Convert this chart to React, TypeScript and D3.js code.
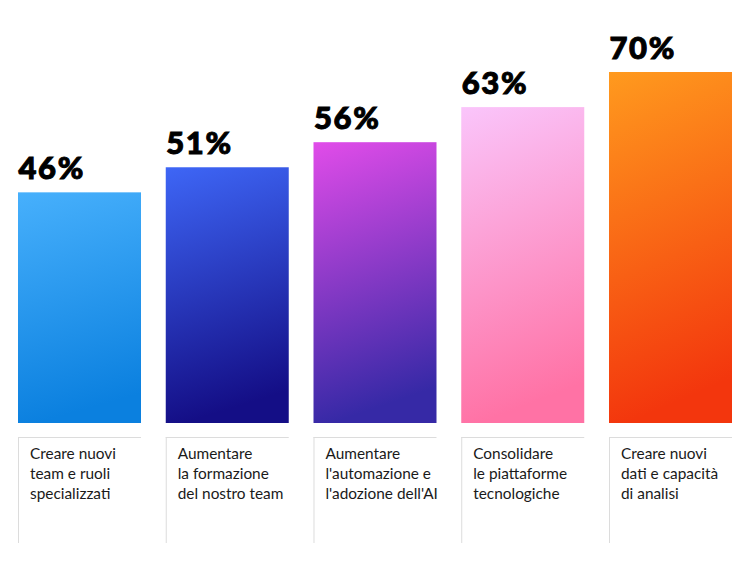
import React from "react";
import * as d3 from "d3";

const categories: string[][] = [
  ["Creare nuovi", "team e ruoli", "specializzati"],
  ["Aumentare", "la formazione", "del nostro team"],
  ["Aumentare", "l'automazione e", "l'adozione dell'AI"],
  ["Consolidare", "le piattaforme", "tecnologiche"],
  ["Creare nuovi", "dati e capacità", "di analisi"],
];
const values: number[] = [46, 51, 56, 63, 70];
const valueLabels: string[] = ["46%", "51%", "56%", "63%", "70%"];
const topColors: string[] = ["#47b0fc", "#3e66f6", "#e14ce9", "#fac5fb", "#ff9a1e"];
const bottomColors: string[] = ["#0b80df", "#140e86", "#3629a6", "#ff72a5", "#f3360d"];

const W = 750;
const H = 582;

export default function App() {
  const x = d3
    .scaleBand<number>()
    .domain(d3.range(values.length))
    .range([18, 732])
    .paddingInner(0.1675)
    .paddingOuter(0);
  const y = d3.scaleLinear().domain([0, 70]).range([423, 72]);
  const bw = x.bandwidth();

  return (
    <svg
      width={W}
      height={H}
      style={{ position: "absolute", left: 0, top: 0, background: "#fff" }}
    >
      <defs>
        {values.map((_, i) => (
          <linearGradient key={i} id={`g${i}`} x1="0" y1="0" x2="0.15" y2="1">
            <stop offset="0%" stopColor={topColors[i]} />
            <stop offset="100%" stopColor={bottomColors[i]} />
          </linearGradient>
        ))}
      </defs>
      {values.map((v, i) => {
        const bx = x(i) as number;
        return (
          <g key={i}>
            <rect x={bx} y={y(v)} width={bw} height={y(0) - y(v)} fill={`url(#g${i})`} />
            <text
              x={bx + 0.5}
              y={y(v) - 13}
              fontFamily="Lato, 'Open Sans', sans-serif"
              fontWeight={900}
              fontSize={31}
              letterSpacing={1.6}
              stroke="#000"
              strokeWidth={1}
              fill="#000"
            >
              {valueLabels[i]}
            </text>
            <line x1={bx + 0.5} x2={bx + 0.5} y1={437} y2={543} stroke="#dcdcdc" strokeWidth={1} />
            <line x1={bx} x2={bx + bw} y1={437.5} y2={437.5} stroke="#dcdcdc" strokeWidth={1} />
            {categories[i].map((line, j) => (
              <text
                key={j}
                x={bx + 12}
                y={459 + j * 20}
                fontFamily="Lato, 'Open Sans', sans-serif"
                fontSize={15.4}
                fill="#1a1a1a"
              >
                {line}
              </text>
            ))}
          </g>
        );
      })}
    </svg>
  );
}
